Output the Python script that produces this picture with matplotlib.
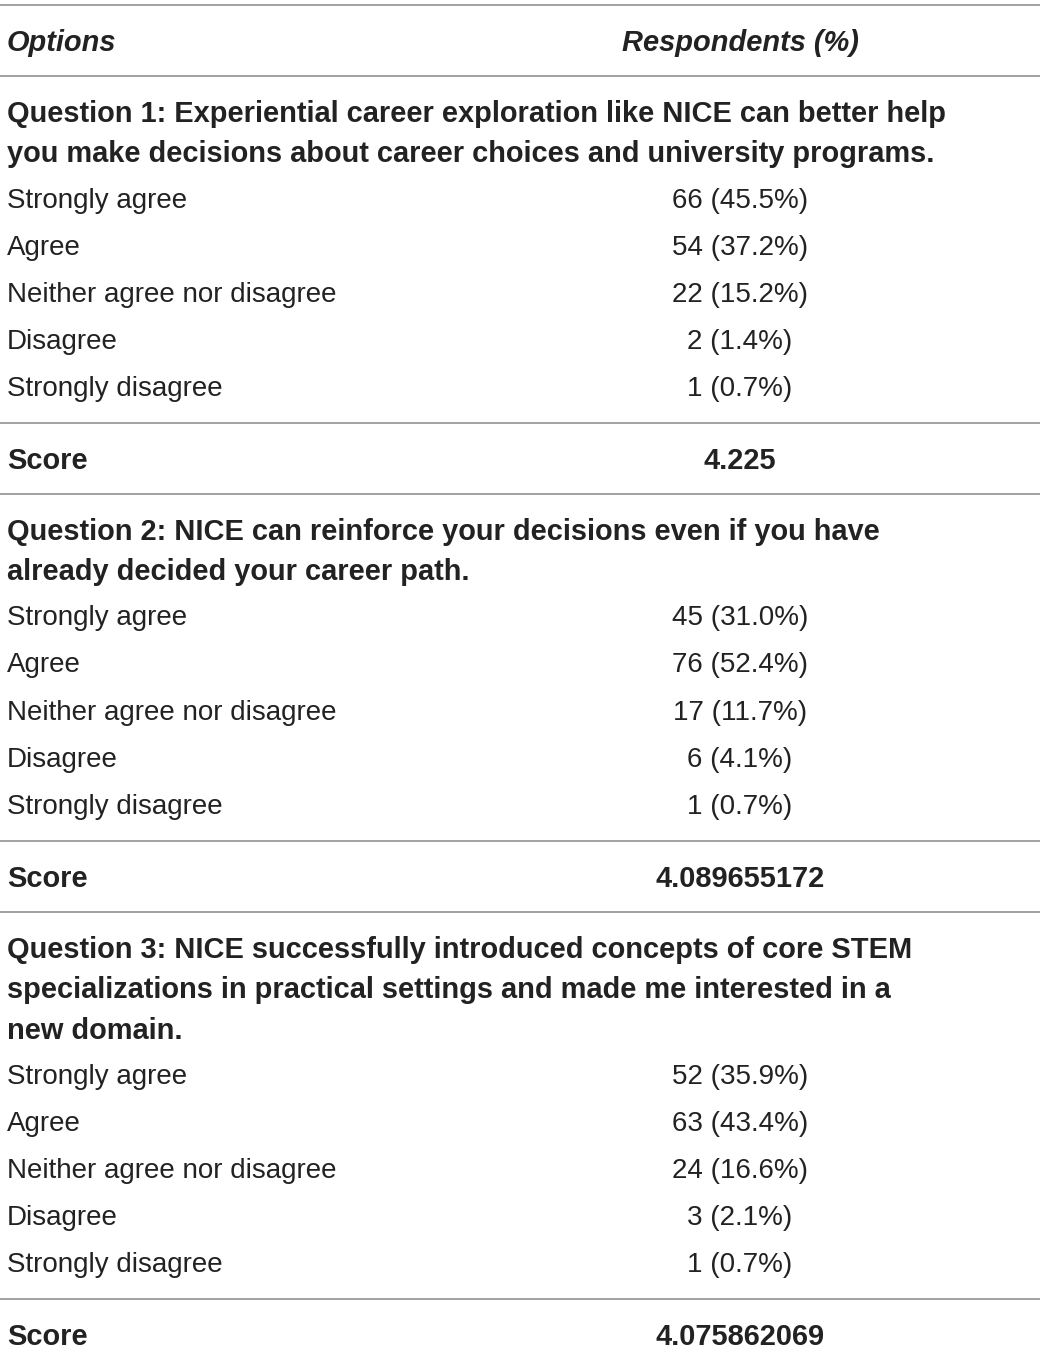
import matplotlib.pyplot as plt

# table content
options = ["Strongly agree", "Agree", "Neither agree nor disagree",
           "Disagree", "Strongly disagree"]
questions = [
    ["Question 1: Experiential career exploration like NICE can better help",
     "you make decisions about career choices and university programs."],
    ["Question 2: NICE can reinforce your decisions even if you have",
     "already decided your career path."],
    ["Question 3: NICE successfully introduced concepts of core STEM",
     "specializations in practical settings and made me interested in a",
     "new domain."],
]
q1_counts = [66, 54, 22, 2, 1]
q1_pcts = [45.5, 37.2, 15.2, 1.4, 0.7]
q2_counts = [45, 76, 17, 6, 1]
q2_pcts = [31.0, 52.4, 11.7, 4.1, 0.7]
q3_counts = [52, 63, 24, 3, 1]
q3_pcts = [35.9, 43.4, 16.6, 2.1, 0.7]
scores = ["4.225", "4.089655172", "4.075862069"]

counts = [q1_counts, q2_counts, q3_counts]
pcts = [q1_pcts, q2_pcts, q3_pcts]

W, H = 1040, 1352
fig = plt.figure(figsize=(W / 100, H / 100), dpi=100)
ax = fig.add_axes([0, 0, 1, 1])
ax.set_xlim(0, W)
ax.set_ylim(H, 0)
ax.axis("off")

plt.rcParams["font.family"] = ["Liberation Sans", "DejaVu Sans"]
TXT = "#222222"
LINE = "#9a9a9a"
FS = 20.0       # regular text
FSB = 20.9      # bold text (reference bold face runs wider)
X0 = 7
XV = 740
LW = 1.3
DY = 2          # nudge text down to match reference baselines


def hline(y):
    ax.plot([0, W], [y, y], color=LINE, lw=LW, solid_capstyle="butt")


def txt(x, y, s, bold=False, italic=False, ha="left"):
    ax.text(x, y + DY, s, fontsize=FSB if bold else FS,
            fontweight="bold" if bold else "normal",
            style="italic" if italic else "normal",
            color=TXT, ha=ha, va="center")


hline(5)
txt(X0, 41, "Options", bold=True, italic=True)
txt(XV, 41, "Respondents (%)", bold=True, italic=True, ha="center")
hline(76)

y = 76
line_h = 40.5
row_h = 47.2
for qi, qlines in enumerate(questions):
    yq = y + 36
    for ln in qlines:
        txt(X0, yq, ln, bold=True)
        yq += line_h
    yr = yq - line_h + 46
    for opt, c, p in zip(options, counts[qi], pcts[qi]):
        txt(X0, yr, opt)
        txt(XV, yr, f"{c} ({p:.1f}%)", ha="center")
        yr += row_h
    ysep = yr - row_h + 36
    hline(ysep)
    ys = ysep + 35.5
    txt(X0, ys, "Score", bold=True)
    txt(XV, ys, scores[qi], bold=True, ha="center")
    y = ys + 35
    if qi < len(questions) - 1:
        hline(y)

fig.savefig("out.png", dpi=100)
